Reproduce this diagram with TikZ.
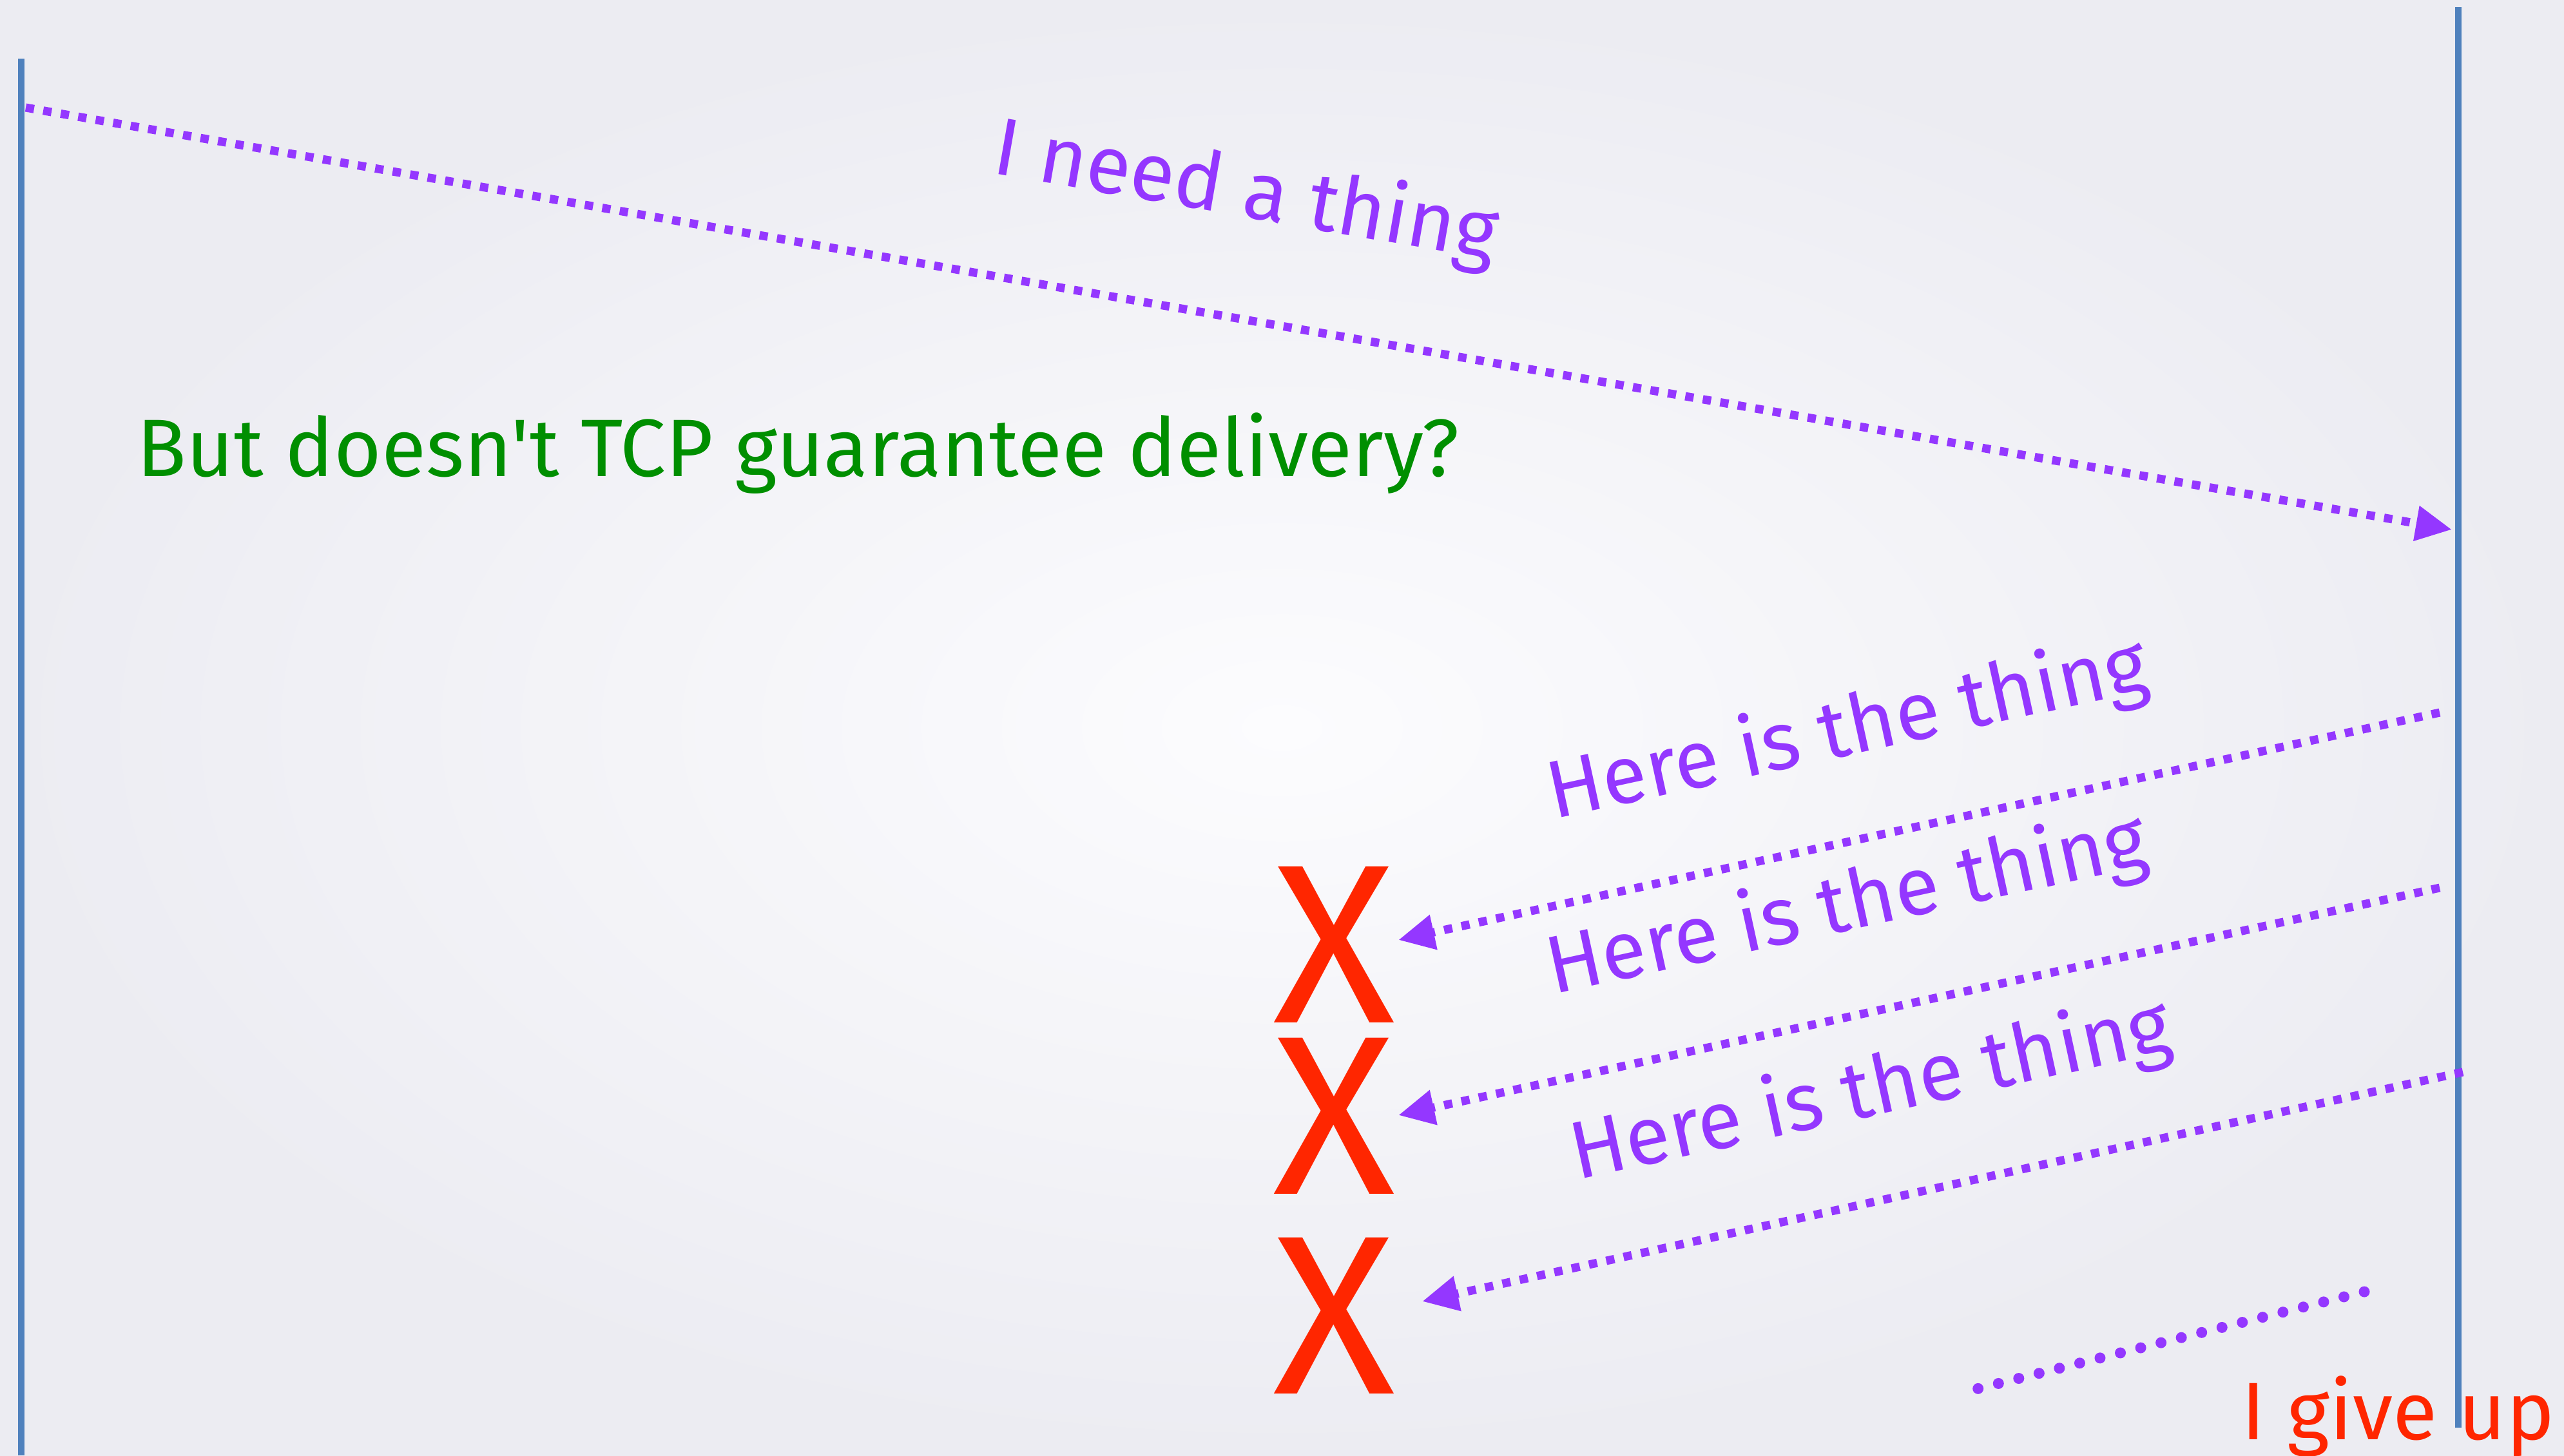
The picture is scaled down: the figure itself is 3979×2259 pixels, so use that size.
\documentclass[tikz,border=0pt]{standalone}
\usepackage{fontspec}
\setmainfont{Fira Sans}[Ligatures=TeXOff]
\usetikzlibrary{arrows.meta,positioning,calc}

\definecolor{msgpurple}{RGB}{148,55,255}
\definecolor{lostred}{RGB}{255,38,0}
\definecolor{askgreen}{RGB}{0,143,0}
\definecolor{lifeblue}{RGB}{79,129,189}
\definecolor{bginner}{RGB}{252,252,254}
\definecolor{bgouter}{RGB}{236,236,242}

\begin{document}
\begin{tikzpicture}[
    x=0.01cm, y=-0.01cm,
    lifeline/.style={draw=lifeblue, line width=1.05mm},
    msg/.style={draw=msgpurple, line width=1.3mm, dash pattern=on 1.3mm off 1.45mm, -{Triangle[length=5.6mm,width=5.2mm]}},
    giveup/.style={draw=msgpurple, line width=1.7mm, line cap=round, dash pattern=on 0pt off 3.25mm},
    msgtext/.style={text=msgpurple, font=\fontsize{36}{38}\selectfont, inner sep=0pt, anchor=base west},
    asktext/.style={text=askgreen, font=\fontsize{36}{38}\selectfont, inner sep=0pt, anchor=base west},
    endtext/.style={text=lostred, font=\fontsize{36}{38}\selectfont, inner sep=0pt, anchor=base west},
    lost/.style={text=lostred, font=\fontsize{100}{100}\selectfont, inner sep=0pt, anchor=base}
]

% Background
\useasboundingbox (0,0) rectangle (3979,2259);
\fill[inner color=bginner, outer color=bgouter] (0,0) rectangle (3979,2259);

% Lifelines
\coordinate (cli-top) at (33,91);
\coordinate (cli-bot) at (33,2259);
\coordinate (srv-top) at (3815,11);
\coordinate (srv-bot) at (3815,2216);
\draw[lifeline] (cli-top) -- (cli-bot);
\draw[lifeline] (srv-top) -- (srv-bot);

% Lost replies
\node[lost] (lost1) at (2070,1587) {X};
\node[lost] (lost2) at (2070,1853) {X};
\node[lost] (lost3) at (2070,2163) {X};

% Message end points
\coordinate (req-from) at (40,167);
\coordinate (req-to) at (3805,822);
\coordinate (rep1-from) at (3786,1106);
\coordinate (rep1-to) at (2170,1459);
\coordinate (rep2-from) at (3786,1378);
\coordinate (rep2-to) at (2170,1731);
\coordinate (rep3-from) at (3822,1664);
\coordinate (rep3-to) at (2207,2020);
\coordinate (wait-from) at (3669,2005);
\coordinate (wait-to) at (3067,2156);

% Messages
\draw[msg] (req-from) -- (req-to);
\draw[msg] (rep1-from) -- (rep1-to);
\draw[msg] (rep2-from) -- (rep2-to);
\draw[msg] (rep3-from) -- (rep3-to);
\draw[giveup] (wait-from) -- (wait-to);

% Texts
\node[msgtext, rotate=-9.9] (need) at (1537,268) {I need a thing};
\node[asktext] (ask) at (212,739) {But doesn't TCP guarantee delivery?};
\node[msgtext, rotate=12.3] (here1) at (2411,1272) {Here is the thing};
\node[msgtext, rotate=12.3] (here2) at (2410,1544) {Here is the thing};
\node[msgtext, rotate=12.3] (here3) at (2447,1832) {Here is the thing};
\node[endtext] (give) at (3478,2234) {I give up};

\end{tikzpicture}
\end{document}
